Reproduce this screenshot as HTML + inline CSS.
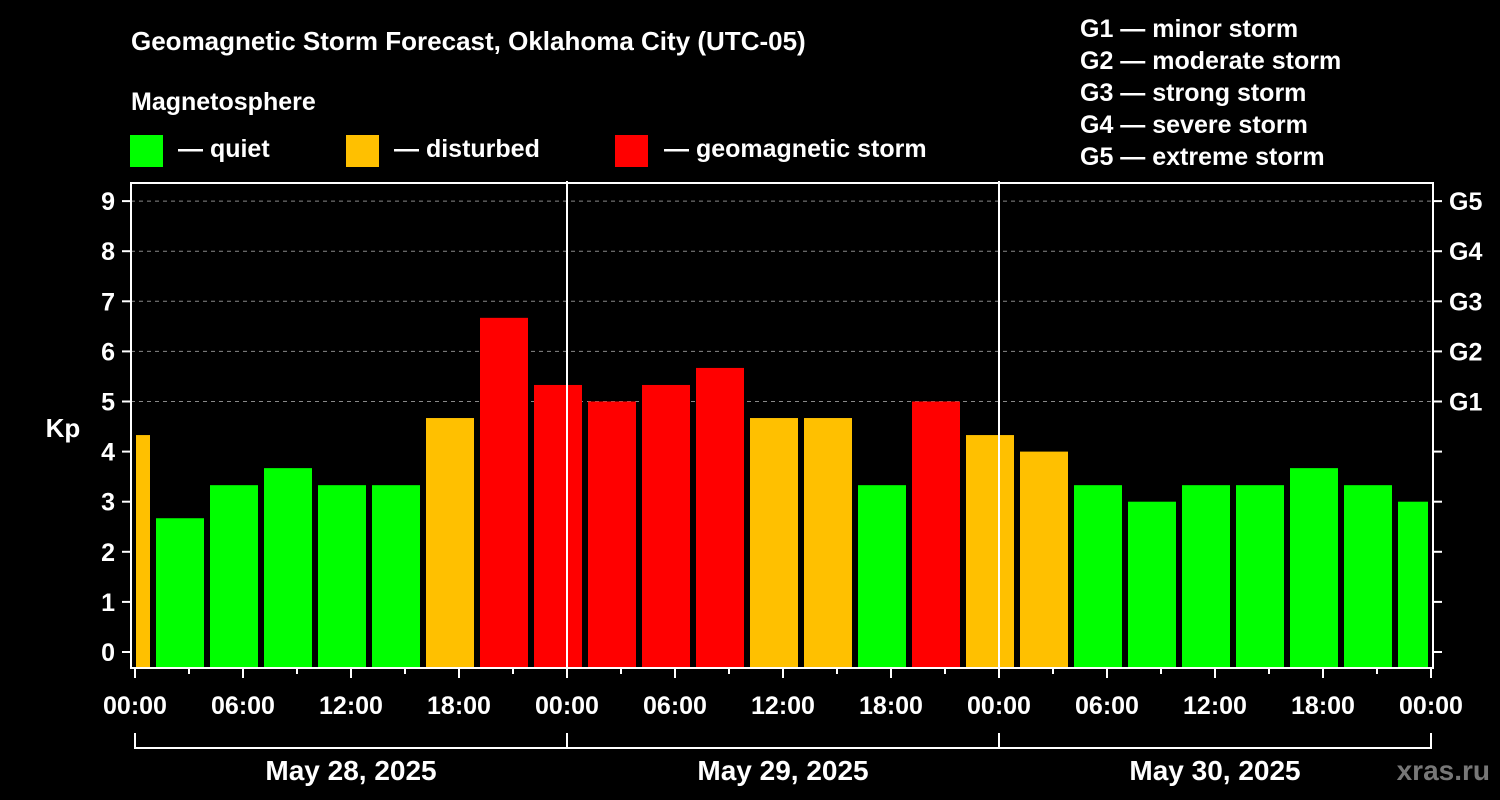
<!DOCTYPE html>
<html><head><meta charset="utf-8"><style>
html,body{margin:0;padding:0;background:#000;}
svg{display:block;font-family:"Liberation Sans",Arial,sans-serif;font-weight:bold;}
</style></head><body>
<svg id="chart" width="1500" height="800" viewBox="0 0 1500 800">
<rect width="1500" height="800" fill="#000"/>
<text x="131" y="50" font-size="26" fill="#fff">Geomagnetic Storm Forecast, Oklahoma City (UTC-05)</text>
<text x="131" y="110" font-size="25" fill="#fff">Magnetosphere</text>
<g><rect x="130" y="135" width="33" height="32" fill="#00ff00"/><text x="178" y="157" font-size="25" fill="#fff">— quiet</text></g>
<g><rect x="346" y="135" width="33" height="32" fill="#ffc000"/><text x="394" y="157" font-size="25" fill="#fff">— disturbed</text></g>
<g><rect x="615" y="135" width="33" height="32" fill="#ff0000"/><text x="664" y="157" font-size="25" fill="#fff">— geomagnetic storm</text></g>
<g font-size="25" fill="#fff">
<text x="1080" y="37">G1 — minor storm</text>
<text x="1080" y="69">G2 — moderate storm</text>
<text x="1080" y="101">G3 — strong storm</text>
<text x="1080" y="133">G4 — severe storm</text>
<text x="1080" y="165">G5 — extreme storm</text>
</g>
<g id="grid"></g>
<g id="bars"></g>
<g id="axes"></g>
<text x="63" y="437" font-size="26" fill="#fff" text-anchor="middle">Kp</text>
<text x="1490" y="780" font-size="28" fill="#777" text-anchor="end">xras.ru</text>
</svg>
<script>
const kpValues = [4.33,2.67,3.33,3.67,3.33,3.33,4.67,6.67,5.33,5.0,5.33,5.67,4.67,4.67,3.33,5.0,4.33,4.0,3.33,3.0,3.33,3.33,3.67,3.33,3.0];
const barStartHours = [-2,1,4,7,10,13,16,19,22,25,28,31,34,37,40,43,46,49,52,55,58,61,64,67,70];
const yTickLabels = ["0","1","2","3","4","5","6","7","8","9"];
const gLabels = ["G1","G2","G3","G4","G5"];
const timeLabels = ["00:00","06:00","12:00","18:00","00:00","06:00","12:00","18:00","00:00","06:00","12:00","18:00","00:00"];
const dayLabels = ["May 28, 2025","May 29, 2025","May 30, 2025"];

const NS="http://www.w3.org/2000/svg";
const X0=135, PXH=18, Y0=652, PXK=50.1, LEFT=131, RIGHT=1433, TOP=183, BOT=668, XEND=X0+72*PXH;
const xs=h=>X0+h*PXH, ys=k=>Y0-k*PXK;
function mk(t,a,p){const e=document.createElementNS(NS,t);for(const k in a)e.setAttribute(k,a[k]);p.appendChild(e);return e;}
const grid=document.getElementById('grid'),bars=document.getElementById('bars'),axes=document.getElementById('axes');
for(let k=5;k<=9;k++){
  const l=mk('line',{x1:LEFT,x2:RIGHT,y1:ys(k),y2:ys(k),stroke:'#888','stroke-dasharray':'4,4','stroke-width':1},grid);
  
  
}
kpValues.forEach((v,i)=>{
  let x1=Math.max(xs(barStartHours[i])+3,LEFT+5), x2=Math.min(xs(barStartHours[i]+3)-3,XEND-3);
  const c=v>=5?'#ff0000':(v>=4?'#ffc000':'#00ff00');
  const r=mk('rect',{x:x1,y:ys(v),width:x2-x1,height:BOT-ys(v),fill:c},bars);
  
  
});
const frame=mk('rect',{x:LEFT,y:TOP,width:RIGHT-LEFT,height:BOT-TOP,fill:'none',stroke:'#fff','stroke-width':2},axes);


[24,48].forEach(h=>{
  const l=mk('line',{x1:xs(h),x2:xs(h),y1:TOP-2,y2:BOT,stroke:'#fff','stroke-width':2},axes);
  
  
});
yTickLabels.forEach((t,k)=>{
  mk('line',{x1:LEFT-9,x2:LEFT,y1:ys(k),y2:ys(k),stroke:'#fff','stroke-width':2},axes);
  mk('line',{x1:RIGHT,x2:RIGHT+9,y1:ys(k),y2:ys(k),stroke:'#fff','stroke-width':2},axes);
  const tx=mk('text',{x:115,y:ys(k)+9,'font-size':25,fill:'#fff','text-anchor':'end'},axes);
  tx.textContent=t;
  
  
});
gLabels.forEach((g,i)=>{
  const tx=mk('text',{x:1449,y:ys(5+i)+9,'font-size':25,fill:'#fff'},axes);
  tx.textContent=g;
  
  
});
for(let h=0;h<=72;h+=3){
  const major=h%6===0;
  mk('line',{x1:xs(h),x2:xs(h),y1:BOT,y2:BOT+(major?10:6),stroke:'#fff','stroke-width':2},axes);
}
timeLabels.forEach((t,i)=>{
  const tx=mk('text',{x:xs(i*6),y:714,'font-size':25,fill:'#fff','text-anchor':'middle'},axes);
  tx.textContent=t;
  
  
});
mk('line',{x1:X0,x2:XEND,y1:748,y2:748,stroke:'#fff','stroke-width':2},axes);
[0,24,48,72].forEach(h=>mk('line',{x1:xs(h),x2:xs(h),y1:733,y2:749,stroke:'#fff','stroke-width':2},axes));
dayLabels.forEach((d,i)=>{
  const tx=mk('text',{x:xs(i*24+12),y:780,'font-size':28,fill:'#fff','text-anchor':'middle'},axes);
  tx.textContent=d;
  
  
});
</script>
</body></html>
